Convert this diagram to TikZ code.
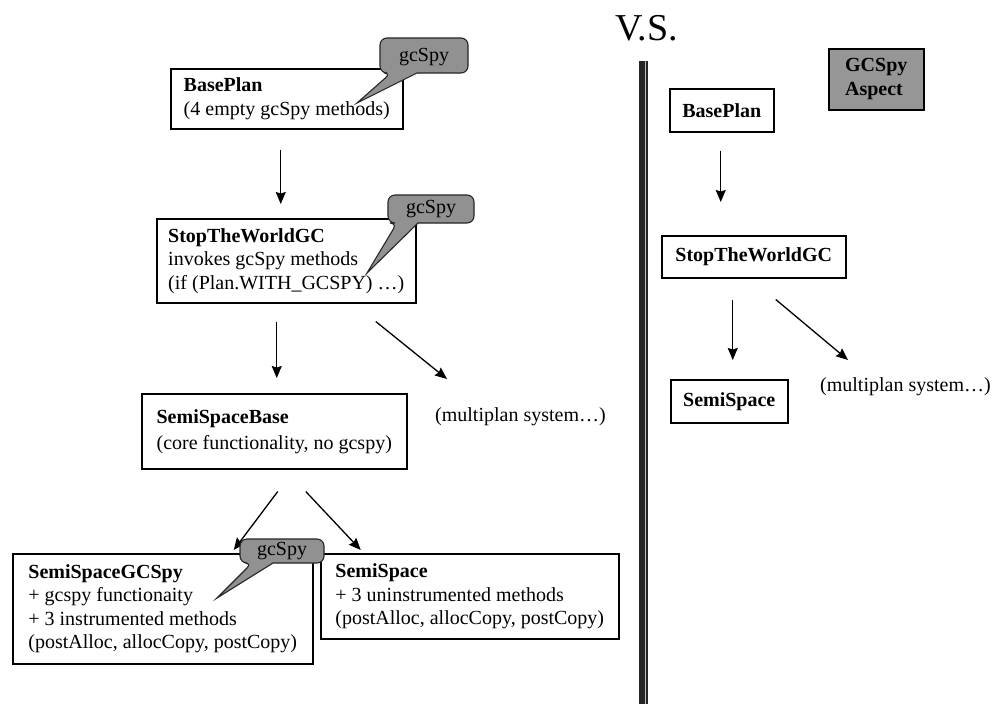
\documentclass[tikz,border=0pt]{standalone}
\usepackage{fontspec}
\setmainfont{Liberation Serif}
\usetikzlibrary{arrows.meta}
\definecolor{bubblegray}{RGB}{145,145,145}
\definecolor{aspectgray}{RGB}{150,150,150}
\begin{document}
\begin{tikzpicture}[x=1pt,y=-1pt,
  txt/.style={font=\fontsize{20}{23.5}\selectfont},
  box/.style={txt, draw, line width=1.5pt, fill=white, anchor=north west, inner xsep=6pt, inner ysep=0pt, align=left},
  arr/.style={line width=1.3pt, -{Stealth[length=12pt,width=10pt,inset=1.5pt]}},
  bubble/.style={draw=black!85, line width=1.1pt, fill=bubblegray}]
\useasboundingbox (0,0) rectangle (998,704);
\fill[white] (0,0) rectangle (998,704);

% left column
\node[box, minimum width=232pt, minimum height=60pt] (bp) at (170,68) {\textbf{BasePlan}\\(4 empty gcSpy methods)};
\node[box, minimum width=259pt, minimum height=84pt] (stw) at (156,218) {\textbf{StopTheWorldGC}\\invokes gcSpy methods\\(if (Plan.WITH\_GCSPY) …)};
\node[box, minimum width=265pt, minimum height=75pt, font=\fontsize{20}{26}\selectfont] (ssb) at (141,393) {\textbf{SemiSpaceBase}\\(core functionality, no gcspy)};
\node[txt, anchor=west, inner sep=0pt] (mp) at (435,417) {(multiplan system…)};
\node[box, minimum width=300pt, minimum height=110pt] (ssgc) at (12,553) {\textbf{SemiSpaceGCSpy}\\+ gcspy functionaity\\+ 3 instrumented methods\\(postAlloc, allocCopy, postCopy)};
\node[box, minimum width=298pt, minimum height=85pt] (ss) at (320,553) {\textbf{SemiSpace}\\+ 3 uninstrumented methods\\(postAlloc, allocCopy, postCopy)};

% separator and title
\node[font=\fontsize{38}{40}\selectfont, anchor=base west, inner sep=0pt] (vs) at (615,40) {V.S.};
\fill[black!85] (639,61) rectangle (648,704);
\fill[gray!50] (644.5,61) rectangle (646,704);

% right column
\node[box, minimum width=104pt, minimum height=43pt, align=center] (rbp) at (669,88) {\textbf{BasePlan}};
\node[box, minimum width=184pt, minimum height=42pt, align=center] (rstw) at (661,235) {\textbf{StopTheWorldGC}};
\node[box, minimum width=117pt, minimum height=43pt, align=center] (rss) at (670,379) {\textbf{SemiSpace}};
\node[txt, anchor=west, inner sep=0pt] (rmp) at (820,387) {(multiplan system…)};
\node[box, fill=aspectgray, minimum width=95pt, minimum height=61pt] (asp) at (828,48) {\textbf{GCSpy}\\\textbf{Aspect}};

% arrows
\draw[arr] ([shift={(-6,20)}]bp.south) -- ([shift={(-5.5,-14)}]stw.north);
\draw[arr] ([shift={(-9.5,18)}]stw.south) -- ([shift={(2.5,-15)}]ssb.north);
\draw[arr] ([shift={(89.5,18)}]stw.south) -- ([shift={(12,-38)}]mp.west);
\draw[arr] ([shift={(3.5,22)}]ssb.south) -- ([shift={(71,-3)}]ssgc.north);
\draw[arr] ([shift={(31.5,22)}]ssb.south) -- ([shift={(-109,-3)}]ss.north);
\draw[arr] ([shift={(-1,18)}]rbp.south) -- ([shift={(-33,-33)}]rstw.north);
\draw[arr] ([shift={(-21,21)}]rstw.south) -- ([shift={(3.5,-19)}]rss.north);
\draw[arr] ([shift={(22,21)}]rstw.south) -- ([shift={(28,-27)}]rmp.west);

% bubbles
\draw[bubble] (424,38) [rounded corners=7pt] -- (380,38) -- (380,73) -- (391,73) [sharp corners] -- (357,103) -- (417,73) [rounded corners=7pt] -- (468,73) -- (468,38) -- cycle;
\node[txt, inner sep=0pt] (g1) at (424,57) {gcSpy};
\draw[bubble] (431,195) [rounded corners=7pt] -- (388,195) -- (388,223) -- (397,223) [sharp corners] -- (367,273) -- (418,223) [rounded corners=7pt] -- (474,223) -- (474,195) -- cycle;
\node[txt, inner sep=0pt] (g2) at (431,209) {gcSpy};
\draw[bubble] (282,539) [rounded corners=7pt] -- (240,539) -- (240,563) -- (252,563) [sharp corners] -- (217,598) -- (273,563) [rounded corners=7pt] -- (324,563) -- (324,539) -- cycle;
\node[txt, inner sep=0pt] (g3) at (282,551) {gcSpy};
\end{tikzpicture}
\end{document}
